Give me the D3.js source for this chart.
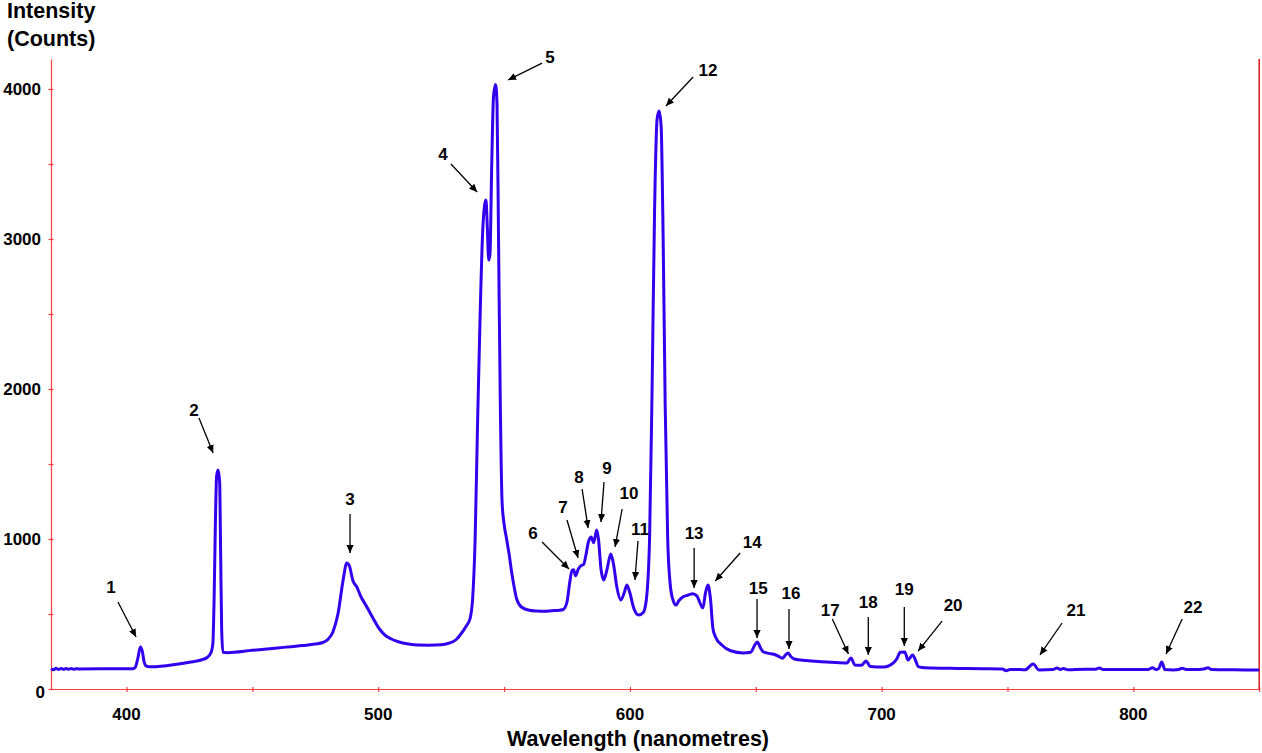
<!DOCTYPE html>
<html><head><meta charset="utf-8">
<script src="https://cdn.jsdelivr.net/npm/d3@7/dist/d3.min.js"></script>
<style>body{margin:0;background:#fff}svg{display:block}text{font-family:"Liberation Sans",Arial,sans-serif;font-weight:bold;fill:#000}</style>
</head><body><svg id="c" width="1262" height="753"></svg>
<script>
// Spectrum data (wavelength nm, intensity counts)
const wavelengths = [370,371,372,373,374,375,376,377,378,379,380,381,390,402.5,403.5,404.5,405.5,406.3,407,408,410,420,425,430,432,433.5,434.3,434.8,435.3,435.8,436.4,437,437.4,437.8,438.3,440,450,460,470,475,478,480,482,484,486,487.5,488.5,490,491.5,493,495.5,498,500.5,503,505,508,512,516,520,525,528,531,533,535,536.5,537.5,538.5,539.5,540.5,541.5,542.3,542.8,543.3,543.9,544.4,545.1,545.8,546.6,547.2,547.8,548.5,549.2,550,551,552,553,554,555,557,560,563,566,569,572,573.5,575,576,577,577.6,578.4,579.5,580.6,581.6,582.6,583.5,584.6,585.6,586.8,587.5,588.5,589.6,590.8,592.4,593.5,594.8,596.4,597.7,598.8,600,601.5,603.5,605.3,606.5,607.8,608.8,609.8,610.8,611.6,612.4,613.2,614,615,616,617,618.3,619.5,621,623,625,626.6,629,630,631,632,633,634,636.5,640,645,648,649.5,650.6,652,653,656,657.5,659,660.6,661.7,662.8,664,665.3,670,675,680,686.2,687.8,689.4,692,693.8,695.5,698,701,704,706,707.4,709.2,710.5,712.3,713.5,714.5,716,720,730,740,748,749.5,751,755,757,760.2,762.5,768,769.7,771,772.1,774,777,785,786.5,788,795,802,806,807.6,809,810,811.3,812.5,816,818,819.4,821,826,828,829.7,831,840,850];
const intensities = [135,128,138,130,136,131,137,132,136,132,135,134,135,135,145,205,280,250,180,152,148,165,178,195,210,240,300,600,1100,1420,1460,1380,900,400,245,242,258,274,290,300,310,330,380,500,720,840,822,720,680,620,547,470,400,355,335,315,300,293,292,295,305,330,370,420,470,600,1000,1800,2500,3050,3230,3260,3100,2860,2900,3500,3950,4030,3900,3000,1900,1250,1100,1000,900,780,680,600,545,525,520,518,522,525,530,580,700,790,795,755,800,822,830,900,980,1013,975,1060,1000,800,727,790,900,830,680,593,640,693,640,540,493,510,593,1000,2000,3200,3800,3853,3750,3000,1900,1000,700,600,560,590,613,625,635,620,540,640,693,600,400,347,293,255,240,245,290,313,270,247,235,230,218,205,225,240,215,200,190,183,178,173,207,160,158,187,150,147,147,165,200,245,247,193,227,190,150,143,140,137,135,133,122,130,130,128,167,127,130,140,130,137,128,130,132,140,130,130,130,130,142,130,135,180,130,127,130,138,130,130,133,142,130,128,127];

const xTickValues = d3.range(350, 851, 50).filter(v => v >= 370);
const xLabelValues = [400, 500, 600, 700, 800];
const yTickValues = d3.range(0, 4201, 500);
const yLabelValues = [0, 1000, 2000, 3000, 4000];

// Peak annotations: label, label centre, arrow tail, arrow tip (data units)
const peakLabels = ["1","2","3","4","5","6","7","8","9","10","11","12","13","14","15","16","17","18","19","20","21","22"];
const labelWl  = [393.8,426.8,488.8,525.7,568.2,561.5,573.4,579.8,590.9,599.6,604.0,631.0,625.5,648.6,651.0,664.0,679.6,694.7,709.0,728.4,777.2,823.7];
const labelI   = [680,1860,1267,3567,4213,1040,1213,1413,1473,1307,1067,4127,1040,980,673,640,527,580,667,560,527,547];
const tailWl   = [396.6,428.8,488.8,528.9,565.1,565.1,575.0,581.0,589.7,596.9,603.2,625.1,625.5,643.8,650.5,663.2,680.4,694.7,709.0,724.0,771.7,819.4];
const tailI    = [580,1807,1167,3500,4173,980,1127,1333,1380,1200,987,4080,940,907,600,533,467,480,547,453,440,467];
const tipWl    = [403.8,434.4,488.8,539.3,551.6,575.8,579.4,583.4,588.5,594.1,602.0,614.3,625.5,633.9,650.5,663.2,686.8,694.7,709.0,714.5,762.9,813.0];
const tipI     = [347,1573,907,3313,4060,800,873,1073,1113,947,727,3887,673,720,340,267,233,227,287,253,227,233];

const svg = d3.select("#c");
const x = d3.scaleLinear().domain([370, 850]).range([51, 1259.2]);
const y = d3.scaleLinear().domain([0, 4200]).range([689, 59]);

svg.append("defs").append("marker")
  .attr("id","ah").attr("viewBox","0 0 10 10").attr("refX",10).attr("refY",5)
  .attr("markerWidth",8).attr("markerHeight",8).attr("markerUnits","userSpaceOnUse")
  .attr("orient","auto")
  .append("path").attr("d","M0,0.5 L10,5 L0,9.5 Z").attr("fill","#000");

// axes
const xAxis = d3.axisBottom(x).tickValues(xTickValues).tickSize(0).tickFormat("");
const gx = svg.append("g").attr("transform","translate(0,689)").call(xAxis);
gx.select(".domain").attr("stroke","#ff3b3b").attr("stroke-width",1.2);
gx.selectAll(".tick").append("line").attr("y1",-2).attr("y2",3).attr("stroke","#ff3b3b").attr("stroke-width",1.2);

const yAxis = d3.axisLeft(y).tickValues(yTickValues).tickSize(0).tickFormat("");
const gy = svg.append("g").attr("transform","translate(51,0)").call(yAxis);
gy.select(".domain").attr("stroke","#ff3b3b").attr("stroke-width",1.2);
gy.selectAll(".tick").append("line").attr("x1",-2.5).attr("x2",2.5).attr("stroke","#ff3b3b").attr("stroke-width",1.2);

// right border
svg.append("line").attr("x1",x(850)).attr("x2",x(850)).attr("y1",y(4200)).attr("y2",y(0))
  .attr("stroke","#dd1a1a").attr("stroke-width",1.5);

// tick labels
svg.selectAll(".xl").data(xLabelValues).enter().append("text")
  .attr("x",d=>x(d)).attr("y",720).attr("text-anchor","middle").attr("font-size",17).text(d=>d);
svg.selectAll(".yl").data(yLabelValues).enter().append("text")
  .attr("x",d=> d===0 ? 45 : 41).attr("y",d=>y(d) + (d===0?3:0)).attr("dy","0.36em")
  .attr("text-anchor","end").attr("font-size",17).text(d=>d);

// titles
svg.append("text").attr("x",638).attr("y",746).attr("text-anchor","middle").attr("font-size",21.5).text("Wavelength (nanometres)");
svg.append("text").attr("x",7).attr("y",18).attr("font-size",21.5).text("Intensity");
svg.append("text").attr("x",7).attr("y",46).attr("font-size",21.5).text("(Counts)");

// spectrum line
const pts = wavelengths.map((w,i)=>[w,intensities[i]]);
svg.append("path").datum(pts)
  .attr("fill","none").attr("stroke","#3300ee").attr("stroke-width",3).attr("stroke-linejoin","round")
  .attr("d", d3.line().x(d=>x(d[0])).y(d=>y(d[1])).curve(d3.curveMonotoneX));

// annotations
const ann = svg.append("g");
peakLabels.forEach((lab,i)=>{
  ann.append("line")
    .attr("x1",x(tailWl[i])).attr("y1",y(tailI[i]))
    .attr("x2",x(tipWl[i])).attr("y2",y(tipI[i]))
    .attr("stroke","#000").attr("stroke-width",1.3).attr("marker-end","url(#ah)");
  ann.append("text").attr("x",x(labelWl[i])).attr("y",y(labelI[i])).attr("dy","0.36em")
    .attr("text-anchor","middle").attr("font-size",17).text(lab);
});
</script></body></html>
